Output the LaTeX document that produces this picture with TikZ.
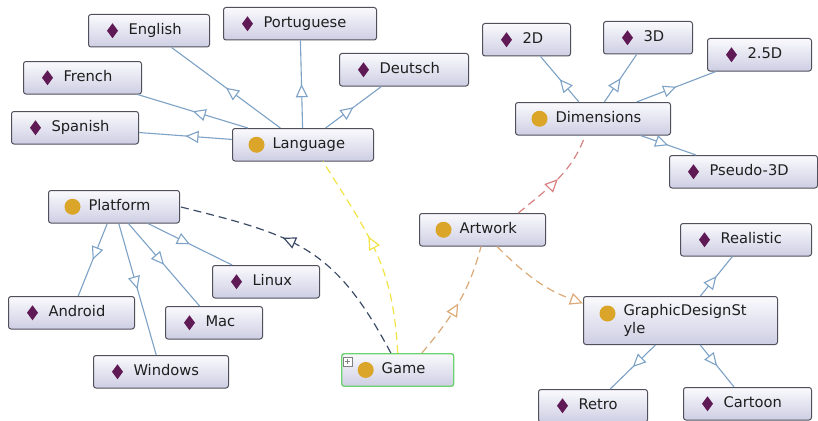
\documentclass[tikz,border=0pt]{standalone}
\usepackage{fontspec}
\setmainfont{DejaVu Sans}
\usetikzlibrary{arrows.meta,decorations.markings}

\definecolor{boxtop}{RGB}{250,250,253}
\definecolor{boxbot}{RGB}{206,206,228}
\definecolor{boxline}{RGB}{80,80,92}
\definecolor{indcol}{RGB}{95,25,85}
\definecolor{clscol}{RGB}{218,165,40}
\definecolor{linkblue}{RGB}{125,162,198}
\definecolor{platcol}{RGB}{60,76,102}
\definecolor{yelcol}{RGB}{242,228,70}
\definecolor{tancol}{RGB}{220,170,120}
\definecolor{redcol}{RGB}{215,130,130}
\definecolor{gamegreen}{RGB}{110,210,110}

\begin{document}
\begin{tikzpicture}[x=1pt,y=1pt]
\tikzstyle{box}=[draw=boxline, line width=1pt, rounded corners=2.5pt, top color=boxtop, bottom color=boxbot, anchor=north west, minimum height=32.5pt, inner xsep=0pt, inner ysep=0pt, text height=12pt, text depth=5pt, align=left, text=black!88, font=\fontsize{14.7}{17.6}\selectfont, execute at begin node={\leftskip=40pt}]
\tikzstyle{indiv}=[box, path picture={\fill[indcol, sharp corners] ([xshift=24pt]path picture bounding box.west) ++(0pt,7.5pt) -- ++(5.5pt,-7.5pt) -- ++(-5.5pt,-7.5pt) -- ++(-5.5pt,7.5pt) -- cycle;}]
\tikzset{cls/.style={box, path picture={\fill[clscol] ([xshift=24pt,yshift=#1]path picture bounding box.west) circle (8pt);}}, cls/.default=0pt}
\tikzstyle{plusbox}=[draw=gray, fill=white, anchor=north west, minimum size=9pt, inner sep=0pt, path picture={\draw[line width=0.8pt] ([xshift=-2.5pt]path picture bounding box.center) -- ++(5pt,0pt) ([yshift=-2.5pt]path picture bounding box.center) -- ++(0pt,5pt);}]
\tikzstyle{sub}=[draw=linkblue, line width=1.1pt, postaction={decorate}, decoration={markings, mark=at position 0.5 with {\arrow{Triangle[fill=white, length=13pt, width=12pt]}}}]
\tikzset{rel/.style={line width=1.2pt, dash pattern=on 8pt off 5pt, postaction={decorate}, decoration={markings, mark=at position #1 with {\arrow{Triangle[fill=white, length=13pt, width=12pt]}}}}, rel/.default=0.5}
\tikzstyle{relend}=[line width=1.2pt, dash pattern=on 8pt off 5pt, -{Triangle[fill=white, length=13pt, width=12pt]}]

\path[use as bounding box, fill=white] (0,0) rectangle (818,-420);

% classes
\node[cls, text width=141pt] (language) at (232,-128) {Language};
\node[cls, text width=155pt] (dimensions) at (515,-102) {Dimensions};
\node[cls, text width=131pt] (platform) at (48,-190) {Platform};
\node[cls, text width=126pt] (artwork) at (419,-213) {Artwork};
\node[cls=7pt, text width=194pt, minimum height=48pt, text height={}, text depth={}] (gds) at (583,-296) {GraphicDesignSt\\yle};
\node[cls, text width=112pt, draw=gamegreen, line width=1.4pt] (game) at (341,-353) {Game};
\node[plusbox] (expand) at (343,-357) {};

% individuals
\node[indiv, text width=121pt] (english) at (88,-14) {English};
\node[indiv, text width=153pt] (portuguese) at (223,-7) {Portuguese};
\node[indiv, text width=129pt] (deutsch) at (339,-53) {Deutsch};
\node[indiv, text width=118pt] (french) at (23,-61) {French};
\node[indiv, text width=127pt] (spanish) at (11,-111) {Spanish};
\node[indiv, text width=88pt] (twod) at (482,-23) {2D};
\node[indiv, text width=89pt] (threed) at (603,-21) {3D};
\node[indiv, text width=104pt] (twohalfd) at (707,-38) {2.5D};
\node[indiv, text width=148pt] (pseudo) at (669,-155) {Pseudo-3D};
\node[indiv, text width=107pt] (linux) at (212,-265) {Linux};
\node[indiv, text width=126pt] (android) at (8,-296) {Android};
\node[indiv, text width=97pt] (mac) at (165,-306) {Mac};
\node[indiv, text width=135pt] (windows) at (93,-355) {Windows};
\node[indiv, text width=131pt] (realistic) at (680,-223) {Realistic};
\node[indiv, text width=109pt] (retro) at (538,-389) {Retro};
\node[indiv, text width=128pt] (cartoon) at (683,-387) {Cartoon};

% subclass links
\draw[sub] (language) -- (english);
\draw[sub] (language) -- (portuguese);
\draw[sub] (language) -- (deutsch);
\draw[sub] (language) -- (french);
\draw[sub] (language) -- (spanish);
\draw[sub] (dimensions) -- (twod);
\draw[sub] (dimensions) -- (threed);
\draw[sub] (dimensions) -- (twohalfd);
\draw[sub] (dimensions) -- (pseudo);
\draw[sub] (platform) -- (android);
\draw[sub] (platform) -- (windows);
\draw[sub] (platform) -- (mac);
\draw[sub] (platform) -- (linux);
\draw[sub] (gds) -- (realistic);
\draw[sub] (gds) -- (retro);
\draw[sub] (gds) -- (cartoon);

% object properties
\draw[rel=0.6, draw=platcol] (game.112) to[out=118, in=-14, looseness=1.2] (platform.east);
\draw[rel=0.58, draw=yelcol] (game.north) to[out=93, in=-58, looseness=1.1] (language.-40);
\draw[rel, draw=tancol] (game.35) to[out=50, in=-105] (artwork.-95);
\draw[rel, draw=redcol] (artwork.25) to[out=40, in=-110] (dimensions.-115);
\draw[relend, draw=tancol] (artwork.-49) to[out=-45, in=160] (gds.170);
\end{tikzpicture}
\end{document}
